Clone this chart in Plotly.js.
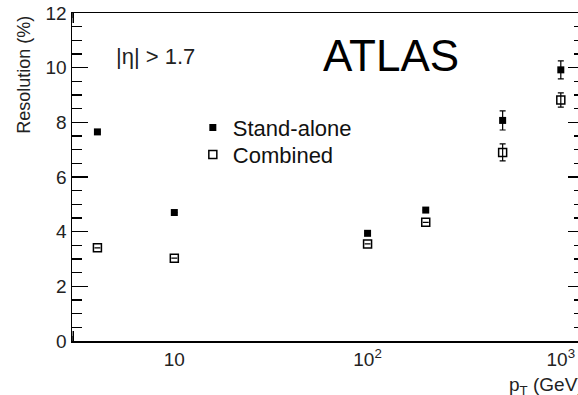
<!DOCTYPE html>
<html>
<head>
<meta charset="utf-8">
<script src="https://cdn.plot.ly/plotly-3.0.1.min.js"></script>
<style>
html,body{margin:0;padding:0;overflow:hidden;background:#fff;width:578px;height:395px;}
#chart{width:590px;height:395px;}
</style>
</head>
<body>
<div id="chart"></div>
<script>
// Data
const pt = [4, 10, 100, 200, 500, 1000];
const standAlone = [7.65, 4.70, 3.94, 4.79, 8.07, 9.92];
const standAloneErr = [0, 0, 0, 0, 0.35, 0.33];
const combined = [3.41, 3.03, 3.55, 4.34, 6.90, 8.82];
const combinedErr = [0, 0, 0, 0, 0.31, 0.26];
const xTickVals = [10, 100, 1000];
const xTickText = ['10', '10<sup>2</sup>', '10<sup>3</sup>'];
const xMinorTicks = [4, 5, 6, 7, 8, 9, 20, 30, 40, 50, 60, 70, 80, 90, 200, 300, 400, 500, 600, 700, 800, 900];
const seriesNames = ['Stand-alone', 'Combined'];

const FONT = 'Liberation Sans, Arial, sans-serif';
const X_RANGE = [0.4705, 3.12];
const PLOT_H = 395 - 13 - 54;

// tick marks for the log x axis (bottom and mirrored top), built from the tick arrays
function tickShapes(vals, lenPx, width) {
  const f = lenPx / PLOT_H;
  const out = [];
  vals.forEach(v => {
    const lx = Math.log10(v);
    out.push({type: 'line', xref: 'x', yref: 'paper', x0: lx, x1: lx, y0: 0, y1: f,
              line: {color: '#000', width: width}, layer: 'above'});
    out.push({type: 'line', xref: 'x', yref: 'paper', x0: lx, x1: lx, y0: 1, y1: 1 - f,
              line: {color: '#000', width: width}, layer: 'above'});
  });
  return out;
}

const traces = [
  {
    x: pt, y: standAlone, name: seriesNames[0], type: 'scatter', mode: 'markers',
    legend: 'legend',
    marker: {symbol: 'square', size: 7, color: '#000', line: {width: 0}},
    error_y: {type: 'data', array: standAloneErr, visible: true, color: '#000', thickness: 1.2, width: 3}
  },
  {
    x: pt, y: combined, name: seriesNames[1], type: 'scatter', mode: 'markers',
    legend: 'legend2',
    marker: {symbol: 'square-open', size: 8, color: '#000', line: {width: 1.5, color: '#000'}},
    error_y: {type: 'data', array: combinedErr, visible: true, color: '#000', thickness: 1.2, width: 3}
  }
];

const legendStyle = {
  xanchor: 'left', yanchor: 'top',
  font: {family: FONT, size: 22, color: '#111'},
  bgcolor: 'rgba(0,0,0,0)', borderwidth: 0
};

const layout = {
  width: 590, height: 395,
  margin: {l: 72, r: 6, t: 13, b: 54},
  paper_bgcolor: '#fff', plot_bgcolor: '#fff',
  font: {family: FONT, color: '#000', size: 18},
  showlegend: true,
  legend: Object.assign({x: 0.236, y: 0.714}, legendStyle),
  legend2: Object.assign({x: 0.236, y: 0.632}, legendStyle),
  xaxis: {
    type: 'log', range: X_RANGE,
    tickmode: 'array', tickvals: xTickVals, ticktext: xTickText,
    ticks: '', ticklabelstandoff: 1,
    showline: true, linecolor: '#000', linewidth: 1.5, mirror: true,
    showgrid: false, zeroline: false,
    tickfont: {family: FONT, size: 19, color: '#222'}
  },
  yaxis: {
    range: [0, 12], dtick: 2, tick0: 0,
    ticks: 'inside', ticklen: 16, tickwidth: 1.5, tickcolor: '#000',
    minor: {ticks: 'inside', ticklen: 10, tickwidth: 1.2, tickcolor: '#000', dtick: 0.5, showgrid: false},
    showline: true, linecolor: '#000', linewidth: 1.5, mirror: 'ticks',
    showgrid: false, zeroline: false,
    tickfont: {family: FONT, size: 19, color: '#222'}
  },
  shapes: tickShapes(xTickVals, 10, 1.5).concat(tickShapes(xMinorTicks, 5, 1.2)),
  annotations: [
    {text: 'ATLAS', xref: 'paper', yref: 'paper', x: 0.623, y: 0.869,
     xanchor: 'center', yanchor: 'middle', showarrow: false,
     font: {family: FONT, size: 44, color: '#000'}},
    {text: '|η| > 1.7', xref: 'paper', yref: 'paper', x: 0.082, y: 0.866,
     xanchor: 'left', yanchor: 'middle', showarrow: false,
     font: {family: FONT, size: 22, color: '#222'}},
    {text: 'Resolution (%)', xref: 'paper', yref: 'paper', x: -0.094, y: 0.811,
     xanchor: 'center', yanchor: 'middle', textangle: -90, showarrow: false,
     font: {family: FONT, size: 18, color: '#222'}},
    {text: 'p<sub>T</sub> (GeV)', xref: 'paper', yref: 'paper', x: 0.850, y: -0.137,
     xanchor: 'left', yanchor: 'middle', showarrow: false,
     font: {family: FONT, size: 19, color: '#222'}}
  ]
};

Plotly.newPlot('chart', traces, layout, {displayModeBar: false, staticPlot: true});
</script>
</body>
</html>
